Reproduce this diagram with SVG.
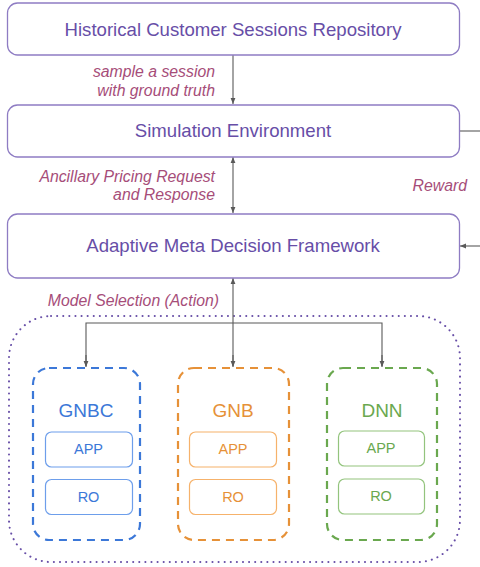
<svg xmlns="http://www.w3.org/2000/svg" width="480" height="567" viewBox="0 0 480 567">
<defs>
<marker id="ah" viewBox="0 0 10 10" refX="10" refY="5" markerWidth="6" markerHeight="6" orient="auto-start-reverse" markerUnits="userSpaceOnUse"><path d="M0,1 L10,5 L0,9 z" fill="#595959"/></marker>
<style>
.main{fill:#fff;stroke:#8e7cc3;stroke-width:1.3}
.mt{font-family:"Liberation Sans",Arial,sans-serif;font-size:18.6px;fill:#674ea7;text-anchor:middle}
.lb{font-family:"Liberation Sans",Arial,sans-serif;font-size:15.8px;font-style:italic;fill:#a64d79;text-anchor:end}
.con{fill:none;stroke:#595959;stroke-width:1.1}
.grp{fill:none;stroke-width:2.2;stroke-dasharray:8,6}
.sub{fill:#fff;stroke-width:1.2}
.gt{font-family:"Liberation Sans",Arial,sans-serif;font-size:19px;text-anchor:middle}
.st{font-family:"Liberation Sans",Arial,sans-serif;font-size:14.5px;text-anchor:middle}
</style>
</defs>
<rect width="480" height="567" fill="#fff"/>
<g id="pool"><rect x="9" y="316" width="451" height="246" rx="42" fill="none" stroke="#674ea7" stroke-width="2" stroke-dasharray="0.1,6" stroke-linecap="round"/></g>
<g id="connectors">
<line class="con" x1="233" y1="55" x2="233" y2="104" marker-end="url(#ah)"/>
<line class="con" x1="233" y1="157" x2="233" y2="213" marker-start="url(#ah)" marker-end="url(#ah)"/>
<line class="con" x1="459" y1="131" x2="480" y2="131"/>
<line class="con" x1="480" y1="246" x2="460" y2="246" marker-end="url(#ah)"/>
<line class="con" x1="233" y1="366" x2="233" y2="278" marker-end="url(#ah)"/>
<polyline class="con" points="86,366 86,323 382,323 382,366"/>
<line class="con" x1="86" y1="355" x2="86" y2="367" marker-end="url(#ah)"/>
<line class="con" x1="233" y1="355" x2="233" y2="367" marker-end="url(#ah)"/>
<line class="con" x1="382" y1="355" x2="382" y2="367" marker-end="url(#ah)"/>
<text class="lb" x="215" y="77">sample a session</text>
<text class="lb" x="215" y="96">with ground truth</text>
<text class="lb" x="215" y="182">Ancillary Pricing Request</text>
<text class="lb" x="215" y="200">and Response</text>
<text class="lb" x="467" y="191">Reward</text>
<text class="lb" x="219" y="306">Model Selection (Action)</text>
</g>
<g id="repo"><rect class="main" x="7.5" y="3" width="452" height="52" rx="10"/><text class="mt" x="233" y="36">Historical Customer Sessions Repository</text></g>
<g id="sim"><rect class="main" x="7.5" y="105" width="452" height="52" rx="10"/><text class="mt" x="233" y="137">Simulation Environment</text></g>
<g id="amdf"><rect class="main" x="7.5" y="214" width="452" height="64" rx="10"/><text class="mt" x="233" y="252">Adaptive Meta Decision Framework</text></g>
<g id="gnbc">
<rect class="grp" x="33" y="368" width="107" height="172" rx="16" stroke="#3c78d8"/>
<text class="gt" x="86" y="417" fill="#3c78d8">GNBC</text>
<rect class="sub" x="45.5" y="432" width="87" height="35" rx="6" stroke="#6d9eeb"/>
<text class="st" x="88.5" y="454" fill="#3c78d8">APP</text>
<rect class="sub" x="45.5" y="479.5" width="87" height="35" rx="6" stroke="#6d9eeb"/>
<text class="st" x="88.5" y="502" fill="#3c78d8">RO</text>
</g>
<g id="gnb">
<rect class="grp" x="178" y="368" width="111" height="172" rx="16" stroke="#e69138"/>
<text class="gt" x="233" y="417" fill="#e69138">GNB</text>
<rect class="sub" x="189.5" y="432" width="87" height="35" rx="6" stroke="#f6b26b"/>
<text class="st" x="233" y="454" fill="#e69138">APP</text>
<rect class="sub" x="189.5" y="479.5" width="87" height="35" rx="6" stroke="#f6b26b"/>
<text class="st" x="233" y="502" fill="#e69138">RO</text>
</g>
<g id="dnn">
<rect class="grp" x="327" y="368" width="110" height="172" rx="16" stroke="#6aa84f"/>
<text class="gt" x="382" y="417" fill="#6aa84f">DNN</text>
<rect class="sub" x="338.5" y="431" width="86" height="35" rx="6" stroke="#93c47d"/>
<text class="st" x="381" y="453" fill="#6aa84f">APP</text>
<rect class="sub" x="338.5" y="479" width="86" height="35" rx="6" stroke="#93c47d"/>
<text class="st" x="381" y="501" fill="#6aa84f">RO</text>
</g>
</svg>
